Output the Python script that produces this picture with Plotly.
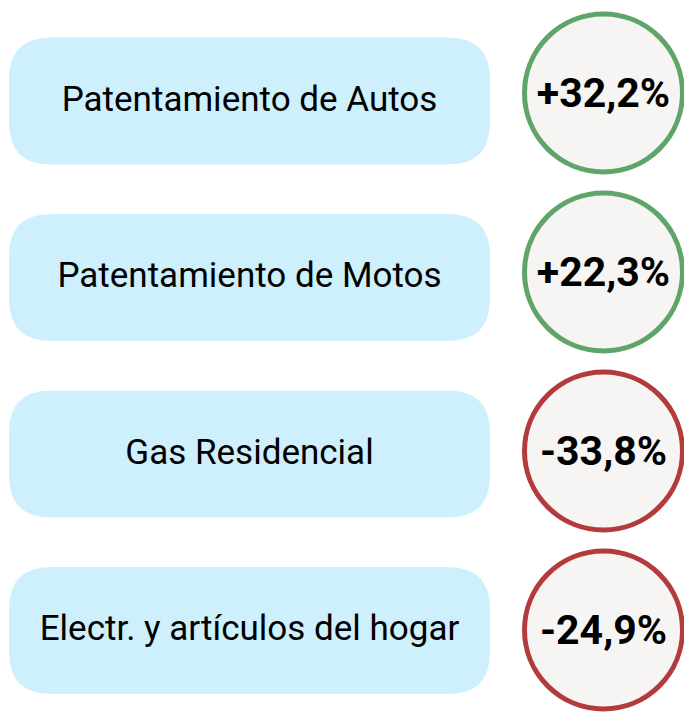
import plotly.graph_objects as go

# ---- data ----
categories = ["Patentamiento de Autos", "Patentamiento de Motos",
              "Gas Residencial", "Electr. y artículos del hogar"]
changes = [32.2, 22.3, -33.8, -24.9]

# ---- layout constants (page-pixel space; page body has an 8px margin) ----
W, H = 692, 714
OFF = 8
BOX_X0, BOX_X1 = 9, 490
BOX_H = 127
BOX_R = 42
BOX_Y0, BOX_STEP = 101, 176.5
CIRC_X = 603.5
CIRC_Y0, CIRC_STEP = 93, 179
TEXT_DY = 4
BOX_FILL = "#CEF0FC"
CIRC_FILL = "#F6F5F4"
POS_COLOR = "#5FA468"
NEG_COLOR = "#B33B3B"


def fmt(v):
    s = f"{abs(v):.1f}".replace(".", ",")
    return ("+" if v > 0 else "-") + s + "%"


def rounded_rect(x0, y0, x1, y1, r):
    return (f"M {x0+r},{y0} L {x1-r},{y0} Q {x1},{y0} {x1},{y0+r} "
            f"L {x1},{y1-r} Q {x1},{y1} {x1-r},{y1} L {x0+r},{y1} "
            f"Q {x0},{y1} {x0},{y1-r} L {x0},{y0+r} Q {x0},{y0} {x0+r},{y0} Z")


box_y = [BOX_Y0 + BOX_STEP * i for i in range(len(categories))]
circ_y = [CIRC_Y0 + CIRC_STEP * i for i in range(len(categories))]

shapes = []
for yc in box_y:
    shapes.append(dict(type="path", xref="x", yref="y",
                       path=rounded_rect(BOX_X0, yc - BOX_H / 2, BOX_X1, yc + BOX_H / 2, BOX_R),
                       fillcolor=BOX_FILL, line=dict(width=0), layer="below"))

fig = go.Figure()

fig.add_trace(go.Scatter(
    x=[(BOX_X0 + BOX_X1) / 2] * len(categories), y=[y + 1 for y in box_y],
    mode="text", text=categories,
    textfont=dict(family="Roboto", size=35, color="#000000"),
    hoverinfo="skip", showlegend=False))

fig.add_trace(go.Scatter(
    x=[CIRC_X] * len(changes), y=circ_y,
    mode="markers",
    marker=dict(size=158, color=CIRC_FILL,
                line=dict(width=5, color=[POS_COLOR if v > 0 else NEG_COLOR for v in changes])),
    hoverinfo="skip", showlegend=False))

fig.add_trace(go.Scatter(
    x=[CIRC_X] * len(changes), y=[y + TEXT_DY for y in circ_y],
    mode="text", text=[fmt(v) for v in changes],
    textposition="middle center",
    textfont=dict(family="Roboto", size=41, color="#000000", weight="bold"),
    hoverinfo="skip", showlegend=False))

fig.update_layout(
    width=W, height=H, margin=dict(l=0, r=0, t=0, b=0),
    paper_bgcolor="white", plot_bgcolor="white",
    shapes=shapes,
    xaxis=dict(range=[OFF, W + OFF], visible=False, fixedrange=True),
    yaxis=dict(range=[H + OFF, OFF], visible=False, fixedrange=True),
)

fig.write_html("out.html")
